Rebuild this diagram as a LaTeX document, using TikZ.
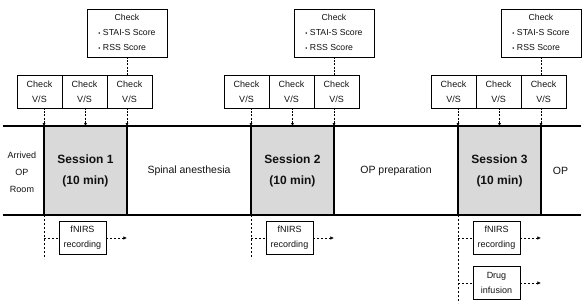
\documentclass[tikz,border=0pt]{standalone}
\usepackage{fontspec}
\setmainfont{Liberation Sans}
\usetikzlibrary{arrows.meta,positioning,calc}
\definecolor{sessiongray}{HTML}{D9D9D9}
\definecolor{textdark}{HTML}{111111}
\tikzset{
  >=Latex,
  session/.style={
    rectangle, draw=black, fill=sessiongray, line width=1.6pt, outer sep=0pt,
    minimum width=83pt, minimum height=89pt, inner sep=0pt, align=center,
    font=\fontsize{12}{21}\selectfont\bfseries, text=textdark
  },
  phasetext/.style={align=center, font=\fontsize{10.5}{17}\selectfont, text=textdark},
  roomtext/.style={align=center, font=\fontsize{9}{17}\selectfont, text=textdark},
  vsbox/.style={
    rectangle, draw=black, line width=0.7pt, outer sep=0pt, inner sep=0pt,
    minimum width=45pt, minimum height=33pt, align=center,
    font=\fontsize{9}{15}\selectfont, text=textdark
  },
  scorebox/.style={
    rectangle, draw=black, line width=0.7pt, outer sep=0pt, inner sep=0pt,
    minimum width=80pt, minimum height=48pt,
    font=\fontsize{8.7}{15}\selectfont, text=textdark
  },
  taskbox/.style={vsbox, minimum width=47pt},
  timeline/.style={line width=1.6pt, line cap=rect},
  vsdot/.style={line width=0.7pt, dash pattern=on 2pt off 1.2pt},
  vsdotarrow/.style={vsdot, -{Latex[length=2.8pt,width=3pt]}},
  taskdash/.style={line width=0.6pt, dash pattern=on 2.4pt off 1.6pt},
  taskarrow/.style={taskdash, -{Latex[length=3.6pt,width=3.4pt]}}
}
\newcommand{\sbul}{{\fontsize{6}{6}\selectfont\textbullet}\ }
\newcommand{\sessionblock}[4]{
  \node[session] (ses#1) at (#2+41.5,170.5) {Session #3\\(10 min)};
  \node[vsbox] (vs#1a) at (#2-4.5,91.5) {Check\\V/S};
  \node[vsbox, right=0pt of vs#1a] (vs#1b) {Check\\V/S};
  \node[vsbox, right=0pt of vs#1b] (vs#1c) {Check\\V/S};
  \node[scorebox] (sc#1) at (#2+83,33)
    {\begin{tabular}{@{}l@{}}\multicolumn{1}{c}{Check}\\\sbul STAI-S Score\\\sbul RSS Score\end{tabular}};
  \draw[vsdot] (sc#1.south) -- (sc#1.south |- vs#1c.north);
  \draw[vsdotarrow] (ses#1.north west |- vs#1a.south) -- (ses#1.north west);
  \draw[vsdotarrow] (ses#1.north |- vs#1b.south) -- (ses#1.north);
  \draw[vsdotarrow] (ses#1.north east |- vs#1c.south) -- (ses#1.north east);
  \node[taskbox] (rec#1) at (#2+38.5,238) {fNIRS\\recording};
  \coordinate (end#1) at ($(ses#1.south west)+(0,#4)$);
  \draw[taskdash] (ses#1.south west) -- (end#1);
  \draw[taskdash] (ses#1.south west |- rec#1.west) -- (rec#1.west);
  \draw[taskarrow] (rec#1.east) -- (rec#1.east -| ses#1.south east);
}

\begin{document}
\begin{tikzpicture}[x=1pt,y=-1pt]
\useasboundingbox (0,0) rectangle (584,307);
\coordinate (topw) at (4,126);
\coordinate (tope) at (580,126);
\coordinate (botw) at (4,215);
\coordinate (bote) at (580,215);
\sessionblock{1}{44}{1}{44}
\sessionblock{2}{251}{2}{44}
\sessionblock{3}{458}{3}{88}
\draw[timeline] (topw) -- (tope);
\draw[timeline] (botw) -- (bote);
% phases between the sessions
\node[roomtext] (room) at (22,172) {Arrived\\OP\\Room};
\node[phasetext] (spinal) at ($(ses1.east)!0.5!(ses2.west)$) {Spinal anesthesia};
\node[phasetext] (prep) at ($(ses2.east)!0.5!(ses3.west)$) {OP preparation};
\node[phasetext] (op) at ($(ses3.east)!0.5!(bote |- ses3.east)$) {OP};
% drug infusion in session 3
\node[taskbox, below=12pt of rec3] (drug3) {Drug\\infusion};
\draw[taskdash] (ses3.south west |- drug3.west) -- (drug3.west);
\draw[taskarrow] (drug3.east) -- (drug3.east -| ses3.south east);
\end{tikzpicture}
\end{document}
